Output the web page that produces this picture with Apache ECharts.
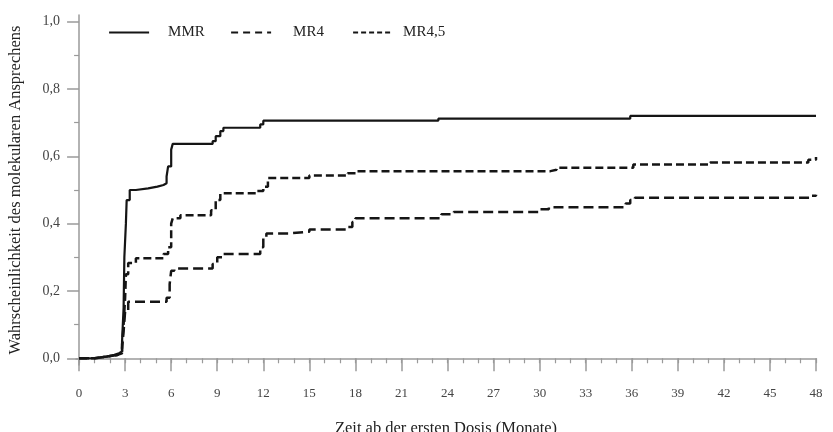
<!DOCTYPE html>
<html>
<head>
<meta charset="utf-8">
<script src="https://cdn.jsdelivr.net/npm/echarts@6/dist/echarts.min.js"></script>
<style>html,body{margin:0;padding:0;background:#fff}#c{width:833px;height:432px}</style>
</head>
<body>
<div id="c"></div>
<script>
// ---- data (time in months, cumulative probability) ----
var seriesNames = ['MMR', 'MR4', 'MR4,5'];
var mmr = [[0,0],[1.0,0.005],[1.8,0.01],[2.3,0.015],[2.6,0.02],[2.8,0.05],[2.9,0.15],[2.95,0.3],[3.05,0.4],[3.1,0.47],[3.3,0.5],[3.7,0.505],[4.5,0.51],[5.1,0.515],[5.5,0.52],[5.7,0.54],[5.8,0.57],[6.0,0.62],[6.1,0.637],[8.7,0.645],[8.9,0.66],[9.2,0.675],[9.4,0.685],[11.8,0.695],[12.0,0.706],[23.4,0.712],[35.9,0.72],[48,0.72]];
var mr4 = [[0,0],[1.0,0.005],[1.8,0.01],[2.5,0.015],[2.8,0.04],[2.9,0.1],[3.0,0.18],[3.05,0.25],[3.2,0.283],[3.7,0.297],[5.5,0.31],[5.8,0.33],[6.0,0.4],[6.1,0.416],[6.6,0.425],[8.6,0.44],[8.9,0.47],[9.2,0.49],[11.6,0.497],[12.0,0.51],[12.3,0.536],[15.0,0.543],[17.5,0.55],[18.1,0.556],[30.7,0.56],[31.1,0.566],[36.1,0.576],[41.1,0.582],[47.5,0.59],[48,0.598]];
var mr45 = [[0,0],[1.0,0.005],[1.8,0.01],[2.5,0.015],[2.8,0.03],[2.9,0.08],[3.0,0.14],[3.2,0.168],[5.7,0.18],[5.9,0.22],[6.0,0.26],[6.2,0.267],[8.7,0.28],[9.0,0.3],[9.4,0.31],[11.8,0.33],[12.0,0.36],[12.2,0.371],[13.7,0.376],[15.0,0.383],[17.4,0.39],[17.8,0.405],[18.0,0.416],[23.6,0.428],[24.4,0.435],[30.0,0.443],[30.6,0.449],[35.6,0.46],[35.9,0.47],[36.2,0.477],[47.6,0.483],[48,0.486]];
var xMajorTicks = [0,3,6,9,12,15,18,21,24,27,30,33,36,39,42,45,48];
var xMinorTicks = [0,1,2,3,4,5,6,7,8,9,10,11,12,13,14,15,16,17,18,19,20,21,22,23,24,25,26,27,28,29,30,31,32,33,34,35,36,37,38,39,40,41,42,43,44,45,46,47,48];
var yMajorTicks = [0, 0.2, 0.4, 0.6, 0.8, 1.0];
var yMinorTicks = [0.1, 0.3, 0.5, 0.7, 0.9];
var xTitle = 'Zeit ab der ersten Dosis (Monate)';
var yTitle = 'Wahrscheinlichkeit des molekularen Ansprechens';

var FONT = 'Liberation Serif';
var AX = '#9a9a9a';
var INK = '#151515';

var chart = echarts.init(document.getElementById('c'), null, {renderer: 'canvas'});
function legendItem(name, left, pad, lineType) {
  return {
    left: left, top: 25, itemWidth: 40, itemHeight: 14, padding: 0,
    data: [{name: name, lineStyle: {type: lineType, width: 2.2, color: INK}, itemStyle: {opacity: 0}}],
    textStyle: {fontFamily: FONT, fontSize: 15, color: '#222', padding: [0,0,0,pad]}
  };
}
var option = {
  animation: false,
  backgroundColor: '#fff',
  grid: {left: 76, right: 17, top: 15, bottom: 67, containLabel: false, outerBoundsMode: 'none'},
  legend: [
    legendItem(seriesNames[0], 108, 14, 'solid'),
    legendItem(seriesNames[1], 230, 17, [7,5]),
    legendItem(seriesNames[2], 352, 5, [5,3])
  ],
  xAxis: [{
    type: 'value', min: -0.2, max: 48, position: 'bottom',
    name: xTitle, nameLocation: 'middle', nameGap: 55,
    nameTextStyle: {fontFamily: FONT, fontSize: 16.5, color: '#222'},
    axisLine: {show: true, lineStyle: {color: AX, width: 1.5}},
    axisTick: {show: true, customValues: xMajorTicks, length: 13, lineStyle: {color: AX, width: 1.5}},
    axisLabel: {show: true, customValues: xMajorTicks, margin: 22, fontFamily: FONT, fontSize: 13, color: '#444'},
    splitLine: {show: false}
  }, {
    type: 'value', min: -0.2, max: 48, position: 'bottom',
    axisLine: {show: false},
    axisTick: {show: true, customValues: xMinorTicks, length: 5, lineStyle: {color: AX, width: 1.2}},
    axisLabel: {show: false},
    splitLine: {show: false}
  }],
  yAxis: [{
    type: 'value', min: -0.02, max: 1.02, position: 'left',
    name: yTitle, nameLocation: 'middle', nameGap: 52, nameRotate: 90,
    nameTextStyle: {fontFamily: FONT, fontSize: 16.5, color: '#222'},
    axisLine: {show: true, lineStyle: {color: AX, width: 1.5}},
    axisTick: {show: true, customValues: yMajorTicks, length: 12, lineStyle: {color: AX, width: 1.5}},
    axisLabel: {show: true, customValues: yMajorTicks, margin: 16, fontFamily: FONT, fontSize: 14, color: '#444',
      formatter: function (v) { return v.toFixed(1).replace('.', ','); }},
    splitLine: {show: false}
  }, {
    type: 'value', min: -0.02, max: 1.02, position: 'left',
    axisLine: {show: false},
    axisTick: {show: true, customValues: yMinorTicks, length: 5, lineStyle: {color: AX, width: 1.2}},
    axisLabel: {show: false},
    splitLine: {show: false}
  }],
  series: [
    {name: seriesNames[0], type: 'line', step: 'end', data: mmr, showSymbol: false, symbol: 'none',
     lineStyle: {color: INK, width: 2.2, type: 'solid'}, itemStyle: {color: INK}},
    {name: seriesNames[1], type: 'line', step: 'end', data: mr4, showSymbol: false, symbol: 'none',
     lineStyle: {color: INK, width: 2.5, type: [8,4]}, itemStyle: {color: INK}},
    {name: seriesNames[2], type: 'line', step: 'end', data: mr45, showSymbol: false, symbol: 'none',
     lineStyle: {color: INK, width: 2.5, type: [10,5]}, itemStyle: {color: INK}}
  ]
};
chart.setOption(option);
</script>
</body>
</html>
